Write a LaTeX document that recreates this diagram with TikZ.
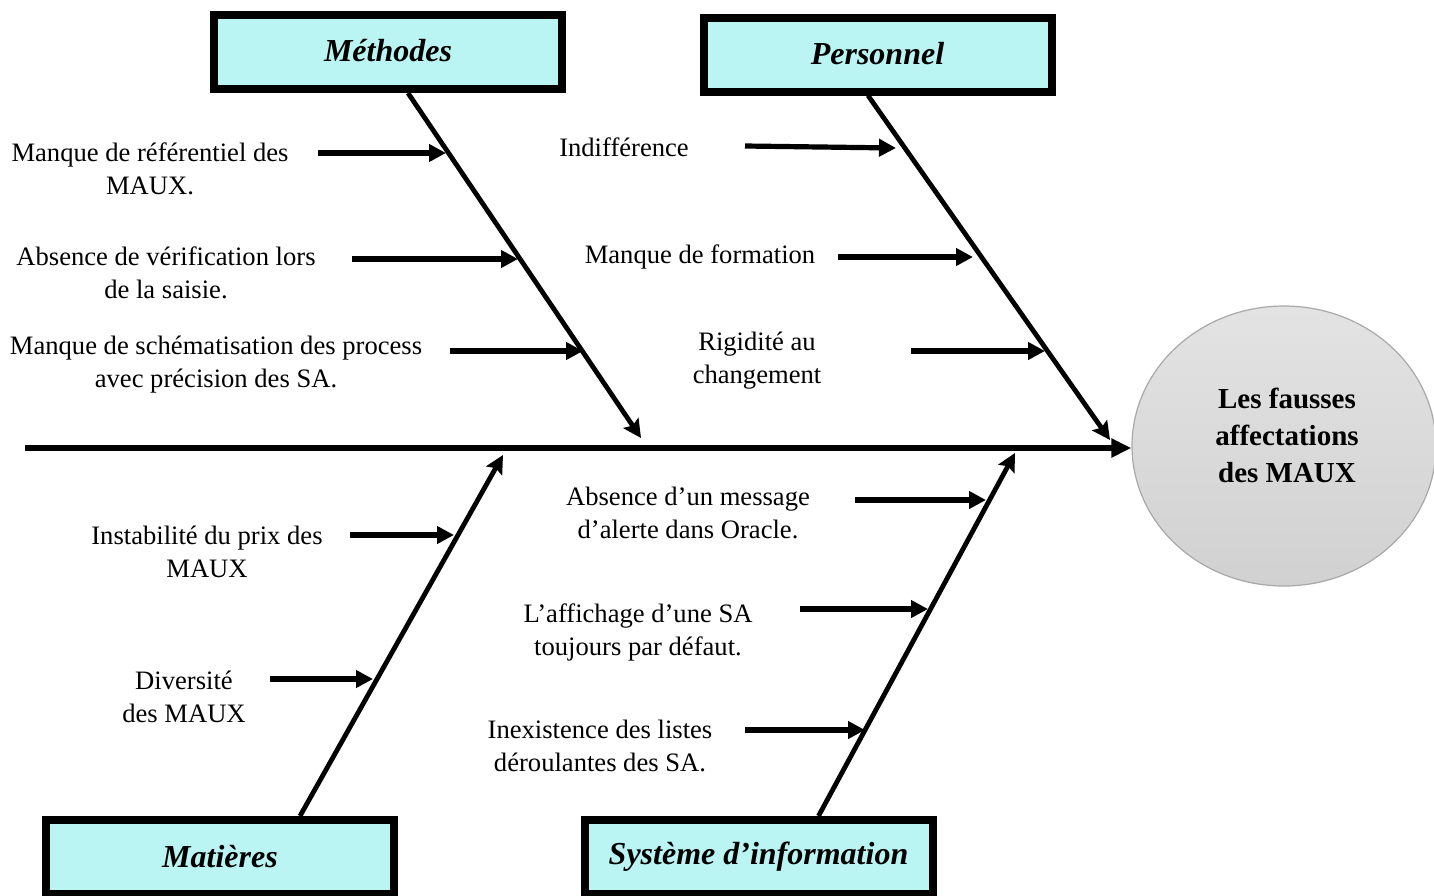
\documentclass[tikz,border=0pt]{standalone}
\usepackage{fontspec}
\setmainfont{Liberation Serif}
\usepackage{tikz}
\usepackage{xcolor}
\usetikzlibrary{arrows.meta,shapes.geometric}
\definecolor{boxcyan}{HTML}{BBF5F3}
\definecolor{effgray}{HTML}{A8A8A8}

\begin{document}
\begin{tikzpicture}[x=0.5pt,y=-0.5pt,
 cat/.style={draw=black,line width=4pt,fill=boxcyan,minimum width=174pt,minimum height=37pt,font=\fontsize{16}{19}\selectfont\bfseries\itshape},
 lbl/.style={align=center,inner sep=0pt,font=\fontsize{13.3}{16.5}\selectfont},
 spine/.style={line width=3.4pt,-{Triangle[length=10pt,width=9pt]}},
 bone/.style={line width=2.4pt,-{Stealth[length=9pt,width=9pt,inset=1.5pt]}},
 cause/.style={line width=2.6pt,-{Triangle[length=8.5pt,width=8.5pt]}}]
 \useasboundingbox (0,0) rectangle (1434,895);
 \node[ellipse,draw=effgray,line width=0.6pt,top color=gray!22,bottom color=gray!36,minimum width=152pt,minimum height=140pt] (effect) at (1284,446) {};
 \node[align=center,font=\fontsize{14.5}{18.5}\selectfont\bfseries] (effecttxt) at (1287,435) {Les fausses\\affectations\\des MAUX};
 \coordinate (tail) at (25,448);
 \draw[spine] (tail) -- (tail -| effect.west);

 \node[cat] (methodes) at (388,52) {\raisebox{2pt}{Méthodes}};
 \node[cat] (personnel) at (877.5,54.5) {\raisebox{1pt}{Personnel}};
 \node[cat] (matieres) at (220,857) {Matières};
 \node[cat] (systeme) at (758.5,857) {Système d’information};

 \coordinate (mhead) at (641,438);
 \coordinate (phead) at (1110,440);
 \coordinate (thead) at (503,455);
 \coordinate (shead) at (1015,453);
 \draw[bone] ([xshift=10pt]methodes.south) -- (mhead);
 \draw[bone] ([xshift=-4.75pt]personnel.south) -- (phead);
 \draw[bone] ([xshift=40pt]matieres.north) -- (thead);
 \draw[bone] ([xshift=30pt]systeme.north) -- (shead);

 \node[lbl] (m1) at (150,169) {Manque de référentiel des\\MAUX.};
 \node[lbl] (m2) at (166,273) {Absence de vérification lors\\de la saisie.};
 \node[lbl] (m3) at (216,365) {Manque de schématisation des process\\avec précision des SA.};
 \node[lbl] (p1) at (624,147) {Indifférence};
 \node[lbl] (p2) at (700,257) {Manque de formation};
 \node[lbl] (p3) at (757,361) {Rigidité au\\changement};
 \node[lbl] (t1) at (207,552) {Instabilité du prix des\\MAUX};
 \node[lbl] (t2) at (184,697) {Diversité\\des MAUX};
 \node[lbl] (s1) at (688,513) {Absence d’un message\\d’alerte dans Oracle.};
 \node[lbl] (s2) at (638,632) {L’affichage d’une SA\\toujours par défaut.};
 \node[lbl] (s3) at (600,746) {Inexistence des listes\\déroulantes des SA.};

 \coordinate (m1a) at (318,153); \coordinate (m1b) at (446,153);
 \coordinate (m2a) at (352,259); \coordinate (m2b) at (518,259);
 \coordinate (m3a) at (450,351); \coordinate (m3b) at (583,351);
 \coordinate (p1a) at (745,146); \coordinate (p1b) at (896,148);
 \coordinate (p2a) at (838,257); \coordinate (p2b) at (973,257);
 \coordinate (p3a) at (911,351); \coordinate (p3b) at (1045,351);
 \coordinate (t1a) at (350,535); \coordinate (t1b) at (454,535);
 \coordinate (t2a) at (270,679); \coordinate (t2b) at (373,679);
 \coordinate (s1a) at (855,500); \coordinate (s1b) at (986,500);
 \coordinate (s2a) at (800,609); \coordinate (s2b) at (928,609);
 \coordinate (s3a) at (745,730); \coordinate (s3b) at (865,730);
 \foreach \c in {m1,m2,m3,p1,p2,p3,t1,t2,s1,s2,s3}
  \draw[cause] (\c a) -- (\c b);
\end{tikzpicture}
\end{document}
